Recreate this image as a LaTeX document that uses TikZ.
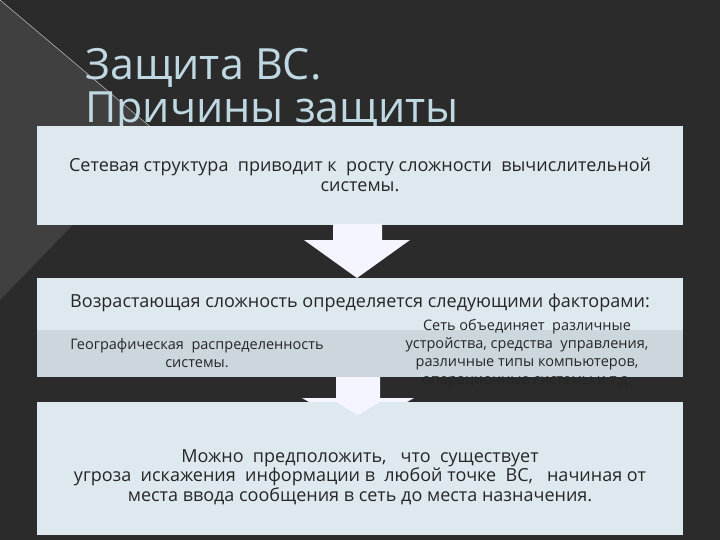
\documentclass[tikz,border=0pt]{standalone}
\usepackage{fontspec}
\setmainfont{Open Sans}
\begin{document}
\begin{tikzpicture}[x=1pt,y=-1pt,
  box/.style={fill=boxc,draw=none},
  txt/.style={font=\fontsize{18}{19.5}\selectfont,align=center,text=black!85},
  small/.style={font=\fontsize{14.5}{18}\selectfont,align=center,text=black!85},
  arr/.style={fill=white!96!blue,draw=none}]
\definecolor{bg}{HTML}{2B2B2B}
\definecolor{boxc}{HTML}{DDE9EF}
\definecolor{band}{HTML}{CBD7DD}
\definecolor{titlec}{HTML}{BFD8E2}
\useasboundingbox (0,0) rectangle (720,540);
\fill[bg] (0,0) rectangle (720,540);
\fill[black!75] (0,0) -- (160,135) -- (0,300) -- cycle;
\draw[gray!60,line width=0.6pt] (0,0) -- (160,135);
\node[anchor=base west,text=titlec,font=\fontsize{43}{46}\selectfont,inner sep=0pt] (t1) at (85,80) {Защита ВС.};
\node[anchor=base west,text=titlec,font=\fontsize{43}{46}\selectfont,inner sep=0pt] (t2) at (85,123) {Причины защиты};
% box 1
\path[box] (37,126) rectangle (683,225);
\node[txt] (l1) at (360,175) {Сетевая структура \ приводит к \ росту сложности \ вычислительной\\системы.};
% arrow 1
\path[arr] (333,224) -- (382,224) -- (382,240) -- (410,240) -- (357,278) -- (304,240) -- (333,240) -- cycle;
% box 2
\path[box] (37,278) rectangle (683,377);
\fill[band] (37,330) rectangle (683,377);
% arrow 2
\path[arr] (336,377) -- (380,377) -- (380,398) -- (414,398) -- (358,430) -- (302,398) -- (336,398) -- cycle;
\node[txt] (l2) at (360,303) {Возрастающая сложность определяется следующими факторами:};
\node[small] (l3) at (197,353) {Географическая \ распределенность\\системы.};
\node[small] (l4) at (527,354) {Сеть объединяет \ различные\\устройства, средства \ управления,\\различные типы компьютеров,\\операционные системы и т.д.};
% box 3
\path[box] (37,402) rectangle (683,535);
\path[arr] (336,402) -- (380,402) -- (358,415) -- cycle;
\node[txt] (l5) at (360,477) {Можно \ предположить, \ \ что \ существует\\угроза \ искажения \ информации в \ любой точке \ ВС, \ \ начиная от\\места ввода сообщения в сеть до места назначения.};
\end{tikzpicture}
\end{document}
